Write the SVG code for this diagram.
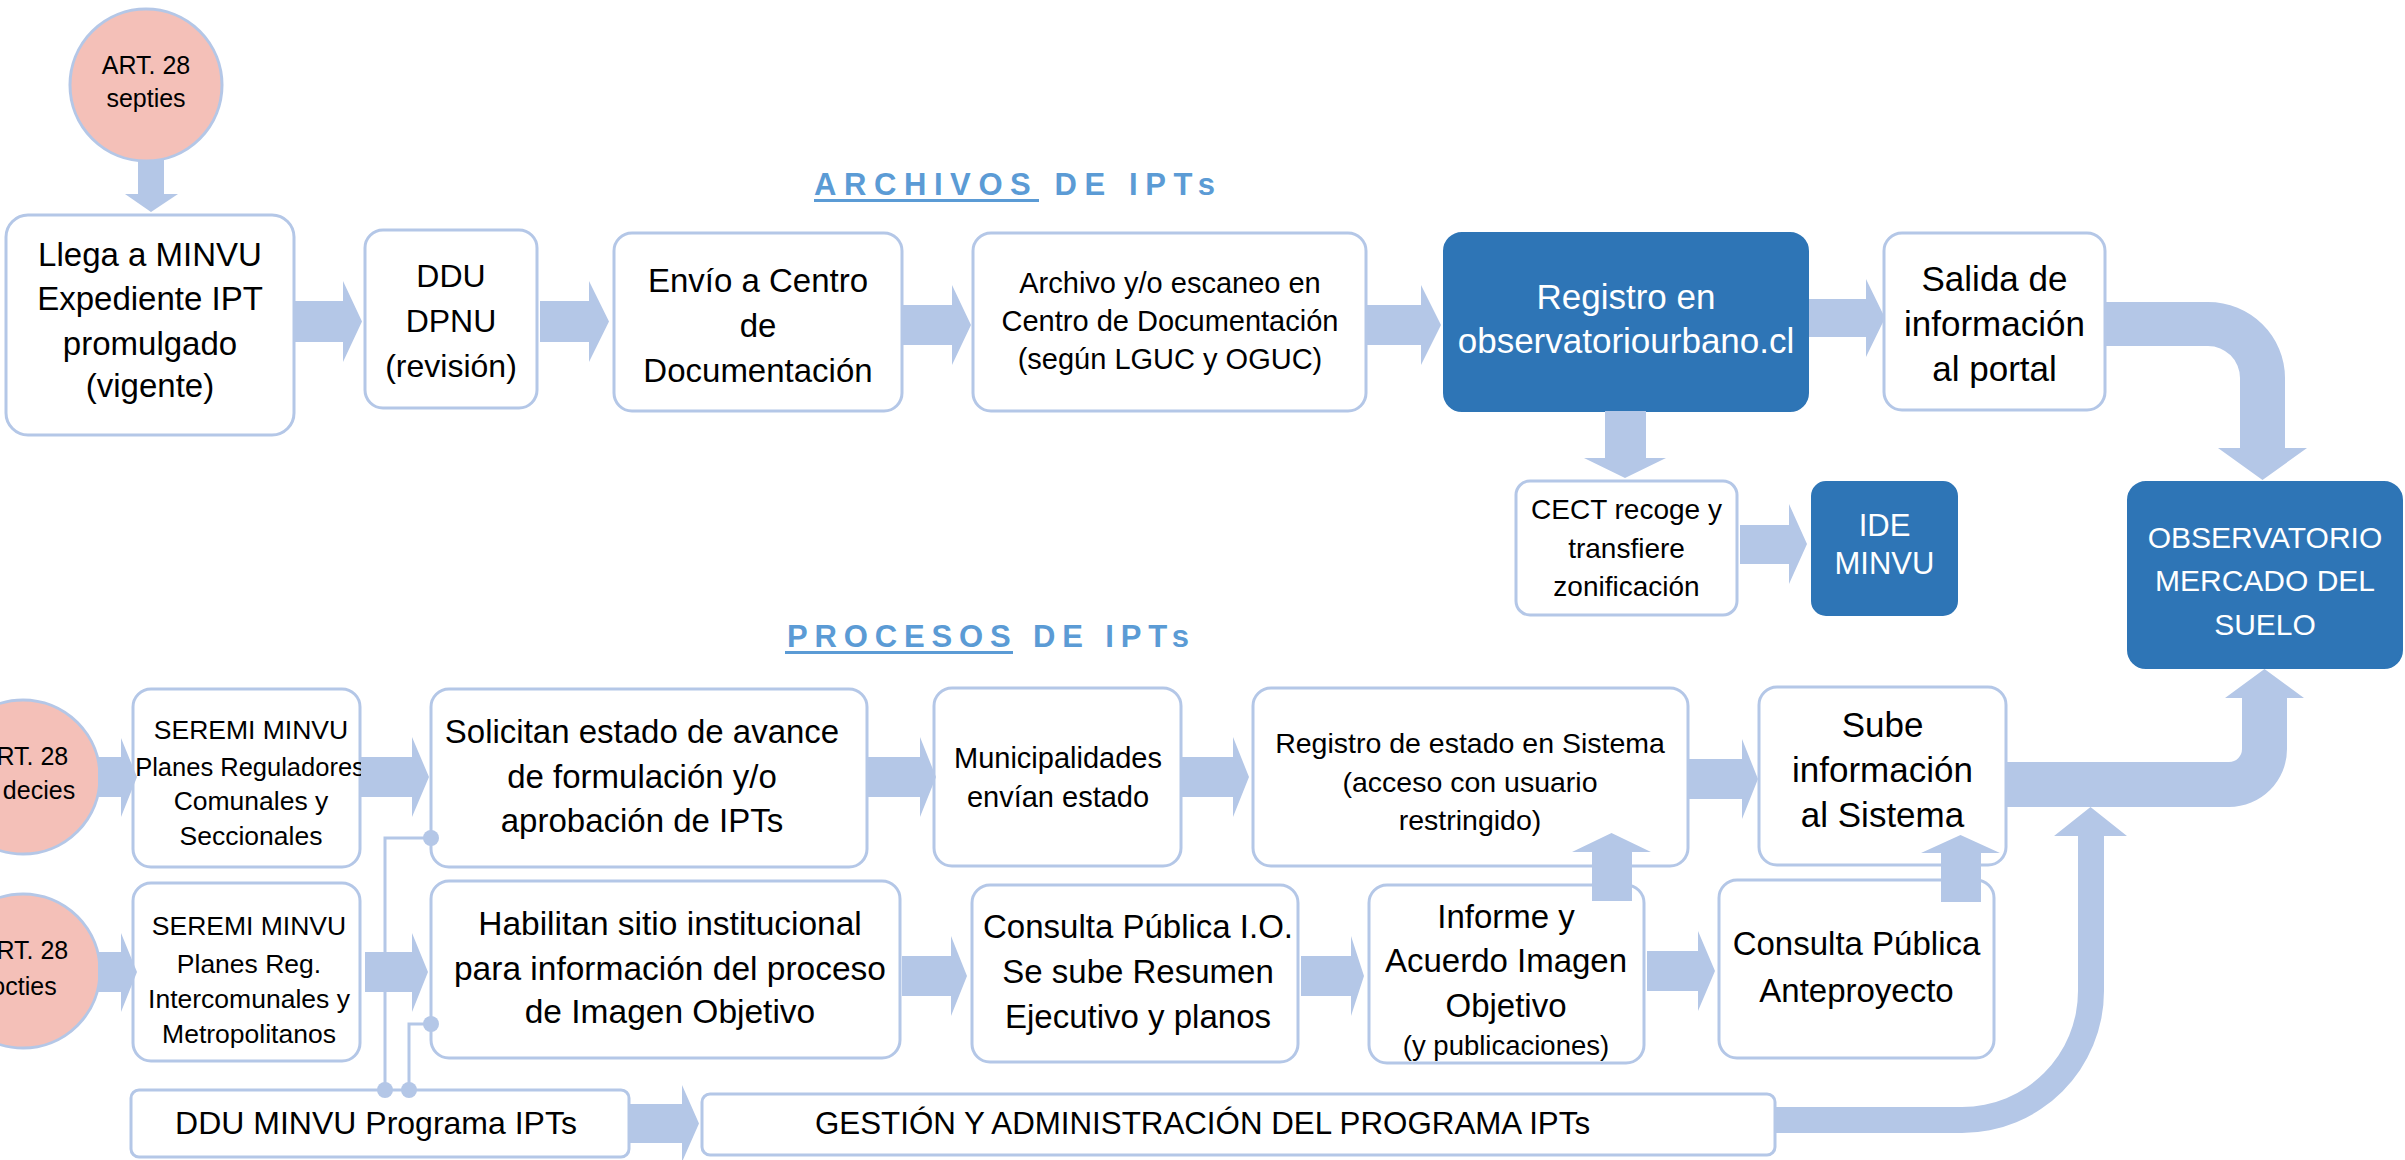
<svg xmlns="http://www.w3.org/2000/svg" width="2405" height="1160" viewBox="0 0 2405 1160">
<style>
.box{fill:#ffffff;stroke:#B4C7E7;stroke-width:3}
.dark{fill:#2E75B6;stroke:#2E75B6;stroke-width:2}
.circ{fill:#F4C0B8;stroke:#B4C7E7;stroke-width:3}
.arr{fill:#B4C7E7;stroke:none}
.ln{fill:none;stroke:#B4C7E7;stroke-width:3}
.dot{fill:#B4C7E7}
text{font-family:"Liberation Sans",Arial,sans-serif;fill:#000;text-anchor:middle}
.w{fill:#fff}
.head{font-weight:bold;fill:#5B9BD5;text-anchor:start;font-size:31px}
</style>
<rect width="2405" height="1160" fill="#fff"/>
<g id="title-archivos">
<text class="head" x="814" y="195" textLength="401" lengthAdjust="spacing">ARCHIVOS DE IPTs</text>
<rect x="814" y="199" width="225" height="3" fill="#5B9BD5"/>
</g>
<g id="title-procesos">
<text class="head" x="787" y="647" textLength="402" lengthAdjust="spacing">PROCESOS DE IPTs</text>
<rect x="785" y="651" width="228" height="3" fill="#5B9BD5"/>
</g>
<g id="art28septies">
<circle class="circ" cx="146" cy="85" r="76"/>
<text x="146" y="74" font-size="25">ART. 28</text>
<text x="146" y="107" font-size="25">septies</text>
</g>
<g id="art28decies">
<circle class="circ" cx="23" cy="777" r="77"/>
<text x="24" y="765" font-size="25">ART. 28</text>
<text x="39" y="799" font-size="25">decies</text>
</g>
<g id="art28octies">
<circle class="circ" cx="23" cy="971" r="77"/>
<text x="24" y="959" font-size="25">ART. 28</text>
<text x="24" y="995" font-size="25">octies</text>
</g>
<g id="llega">
<rect class="box" x="6" y="215" width="288" height="220" rx="22"/>
<text x="150" y="266" font-size="33">Llega a MINVU</text>
<text x="150" y="310" font-size="33">Expediente IPT</text>
<text x="150" y="355" font-size="33">promulgado</text>
<text x="150" y="397" font-size="33">(vigente)</text>
</g>
<g id="ddu">
<rect class="box" x="365" y="230" width="172" height="178" rx="18"/>
<text x="451" y="287" font-size="32">DDU</text>
<text x="451" y="332" font-size="32">DPNU</text>
<text x="451" y="377" font-size="32">(revisión)</text>
</g>
<g id="envio">
<rect class="box" x="614" y="233" width="288" height="178" rx="18"/>
<text x="758" y="292" font-size="33">Envío a Centro</text>
<text x="758" y="337" font-size="33">de</text>
<text x="758" y="382" font-size="33">Documentación</text>
</g>
<g id="archivo">
<rect class="box" x="973" y="233" width="393" height="178" rx="18"/>
<text x="1170" y="293" font-size="29">Archivo y/o escaneo en</text>
<text x="1170" y="331" font-size="29">Centro de Documentación</text>
<text x="1170" y="369" font-size="29">(según LGUC y OGUC)</text>
</g>
<g id="registro">
<rect class="dark" x="1444" y="233" width="364" height="178" rx="18"/>
<text class="w" x="1626" y="309" font-size="35">Registro en</text>
<text class="w" x="1626" y="353" font-size="35">observatoriourbano.cl</text>
</g>
<g id="salida">
<rect class="box" x="1884" y="233" width="221" height="177" rx="18"/>
<text x="1994.5" y="291" font-size="35">Salida de</text>
<text x="1994.5" y="336" font-size="35">información</text>
<text x="1994.5" y="381" font-size="35">al portal</text>
</g>
<g id="cect">
<rect class="box" x="1516" y="481" width="221" height="134" rx="14"/>
<text x="1626.5" y="519" font-size="28">CECT recoge y</text>
<text x="1626.5" y="558" font-size="28">transfiere</text>
<text x="1626.5" y="596" font-size="28">zonificación</text>
</g>
<g id="ide">
<rect class="dark" x="1812" y="482" width="145" height="133" rx="14"/>
<text class="w" x="1884.5" y="536" font-size="31">IDE</text>
<text class="w" x="1884.5" y="574" font-size="31">MINVU</text>
</g>
<g id="observatorio">
<rect class="dark" x="2128" y="482" width="274" height="186" rx="18"/>
<text class="w" x="2265" y="548" font-size="30">OBSERVATORIO</text>
<text class="w" x="2265" y="591" font-size="30">MERCADO DEL</text>
<text class="w" x="2265" y="635" font-size="30">SUELO</text>
</g>
<g id="seremi1">
<rect class="box" x="133" y="689" width="227" height="178" rx="18"/>
<text x="251" y="739" font-size="26.5">SEREMI MINVU</text>
<text x="250" y="776" font-size="25.5">Planes Reguladores</text>
<text x="251" y="810" font-size="26.5">Comunales y</text>
<text x="251" y="845" font-size="26.5">Seccionales</text>
</g>
<g id="solicitan">
<rect class="box" x="431" y="689" width="436" height="178" rx="18"/>
<text x="642" y="743" font-size="33">Solicitan estado de avance</text>
<text x="642" y="788" font-size="33">de formulación y/o</text>
<text x="642" y="832" font-size="33">aprobación de IPTs</text>
</g>
<g id="municipalidades">
<rect class="box" x="934" y="688" width="247" height="178" rx="18"/>
<text x="1058" y="768" font-size="29">Municipalidades</text>
<text x="1058" y="807" font-size="29">envían estado</text>
</g>
<g id="registro-estado">
<rect class="box" x="1253" y="688" width="435" height="178" rx="18"/>
<text x="1470" y="753" font-size="28.5">Registro de estado en Sistema</text>
<text x="1470" y="792" font-size="28.5">(acceso con usuario</text>
<text x="1470" y="830" font-size="28.5">restringido)</text>
</g>
<g id="sube">
<rect class="box" x="1759" y="687" width="247" height="178" rx="18"/>
<text x="1882.5" y="737" font-size="35">Sube</text>
<text x="1882.5" y="782" font-size="35">información</text>
<text x="1882.5" y="827" font-size="35">al Sistema</text>
</g>
<g id="seremi2">
<rect class="box" x="133" y="883" width="227" height="178" rx="18"/>
<text x="249" y="935" font-size="26.5">SEREMI MINVU</text>
<text x="249" y="973" font-size="26.5">Planes Reg.</text>
<text x="249" y="1008" font-size="26.5">Intercomunales y</text>
<text x="249" y="1043" font-size="26.5">Metropolitanos</text>
</g>
<g id="habilitan">
<rect class="box" x="431" y="881" width="469" height="177" rx="18"/>
<text x="670" y="935" font-size="33.5">Habilitan sitio institucional</text>
<text x="670" y="980" font-size="33.5">para información del proceso</text>
<text x="670" y="1023" font-size="33.5">de Imagen Objetivo</text>
</g>
<g id="consulta-io">
<rect class="box" x="972" y="885" width="326" height="177" rx="18"/>
<text x="1138" y="938" font-size="33">Consulta Pública I.O.</text>
<text x="1138" y="983" font-size="33">Se sube Resumen</text>
<text x="1138" y="1028" font-size="33">Ejecutivo y planos</text>
</g>
<g id="informe">
<rect class="box" x="1369" y="885" width="275" height="178" rx="18"/>
<text x="1506" y="928" font-size="33">Informe y</text>
<text x="1506" y="972" font-size="33">Acuerdo Imagen</text>
<text x="1506" y="1017" font-size="33">Objetivo</text>
<text x="1506" y="1055" font-size="27.5">(y publicaciones)</text>
</g>
<g id="consulta-antep">
<rect class="box" x="1719" y="880" width="275" height="178" rx="18"/>
<text x="1856.5" y="955" font-size="33">Consulta Pública</text>
<text x="1856.5" y="1002" font-size="33">Anteproyecto</text>
</g>
<g id="ddu-minvu">
<rect class="box" x="131" y="1090" width="498" height="67" rx="8"/>
<text x="376" y="1134" font-size="32">DDU MINVU Programa IPTs</text>
</g>
<g id="gestion">
<rect class="box" x="702" y="1094" width="1073" height="61" rx="8"/>
<text x="815" y="1134" font-size="31.3" style="text-anchor:start">GESTIÓN Y ADMINISTRACIÓN DEL PROGRAMA IPTs</text>
</g>
<g id="connectors">
<polygon class="arr" points="138,160 164,160 164,194 178,194 151,212 125,194 138,194"/>
<polygon class="arr" points="294,301 343,301 343,281 362,321.5 343,362 343,342 294,342"/>
<polygon class="arr" points="540,301 589,301 589,281 609,321.5 589,362 589,342 540,342"/>
<polygon class="arr" points="902,305 952,305 952,285 971,325 952,365 952,345 902,345"/>
<polygon class="arr" points="1366,305 1421,305 1421,285 1441,325 1421,365 1421,345 1366,345"/>
<polygon class="arr" points="1809,299 1866,299 1866,279 1885,318 1866,357 1866,337 1809,337"/>
<polygon class="arr" points="1605,411 1646,411 1646,458 1666,458 1625,478 1584,458 1605,458"/>
<polygon class="arr" points="1740,525 1789,525 1789,504 1807,544 1789,584 1789,564 1740,564"/>
<path class="arr" d="M2105,302 H2208 A77,76 0 0 1 2285,378 V448 H2307 L2262.5,480 L2218,448 H2240 V378 A32,32 0 0 0 2208,346 H2105 Z"/>
<polygon class="arr" points="98,757 121,757 121,738 137,777 121,817 121,797 98,797"/>
<polygon class="arr" points="98,952 121,952 121,933 137,972 121,1012 121,992 98,992"/>
<polygon class="arr" points="361,757 412,757 412,737 429,777 412,817 412,797 361,797"/>
<polygon class="arr" points="365,952 412,952 412,933 428,972 412,1012 412,992 365,992"/>
<polygon class="arr" points="867,757 920,757 920,737 936,777 920,817 920,797 867,797"/>
<polygon class="arr" points="1181,757 1233,757 1233,737 1249,777 1233,817 1233,797 1181,797"/>
<polygon class="arr" points="1689,759 1742,759 1742,739 1758,779 1742,819 1742,799 1689,799"/>
<polygon class="arr" points="902,956 951,956 951,936 967,976 951,1016 951,996 902,996"/>
<polygon class="arr" points="1301,956 1351,956 1351,936 1364,976 1351,1016 1351,996 1301,996"/>
<polygon class="arr" points="1647,951 1698,951 1698,931 1715,971 1698,1011 1698,991 1647,991"/>
<polygon class="arr" points="629,1104 682,1104 682,1085 699,1123.5 682,1162 682,1143 629,1143"/>
<polygon class="arr" points="1592,901 1592,852 1572,852 1611.5,833 1651,852 1632,852 1632,901"/>
<polygon class="arr" points="1941,902 1941,853 1921,853 1960.5,835 2000,853 1981,853 1981,902"/>
<path class="arr" d="M2006,762 H2229 A13,13 0 0 0 2242,749 V698 H2225 L2264.5,669 L2304,698 H2287 V749 A58,58 0 0 1 2229,807 H2006 Z"/>
<path class="arr" d="M1775,1107 H1962 A116,116 0 0 0 2078,991 V836 H2054 L2090.5,807 L2127,836 H2104 V991 A142,142 0 0 1 1962,1133 H1775 Z"/>
<path class="ln" d="M385,1090 V838 H431"/>
<path class="ln" d="M409,1090 V1024 H431"/>
<circle class="dot" cx="431" cy="838" r="8"/>
<circle class="dot" cx="431" cy="1024" r="8"/>
<circle class="dot" cx="385" cy="1090" r="8"/>
<circle class="dot" cx="409" cy="1090" r="8"/>
</g>
</svg>
